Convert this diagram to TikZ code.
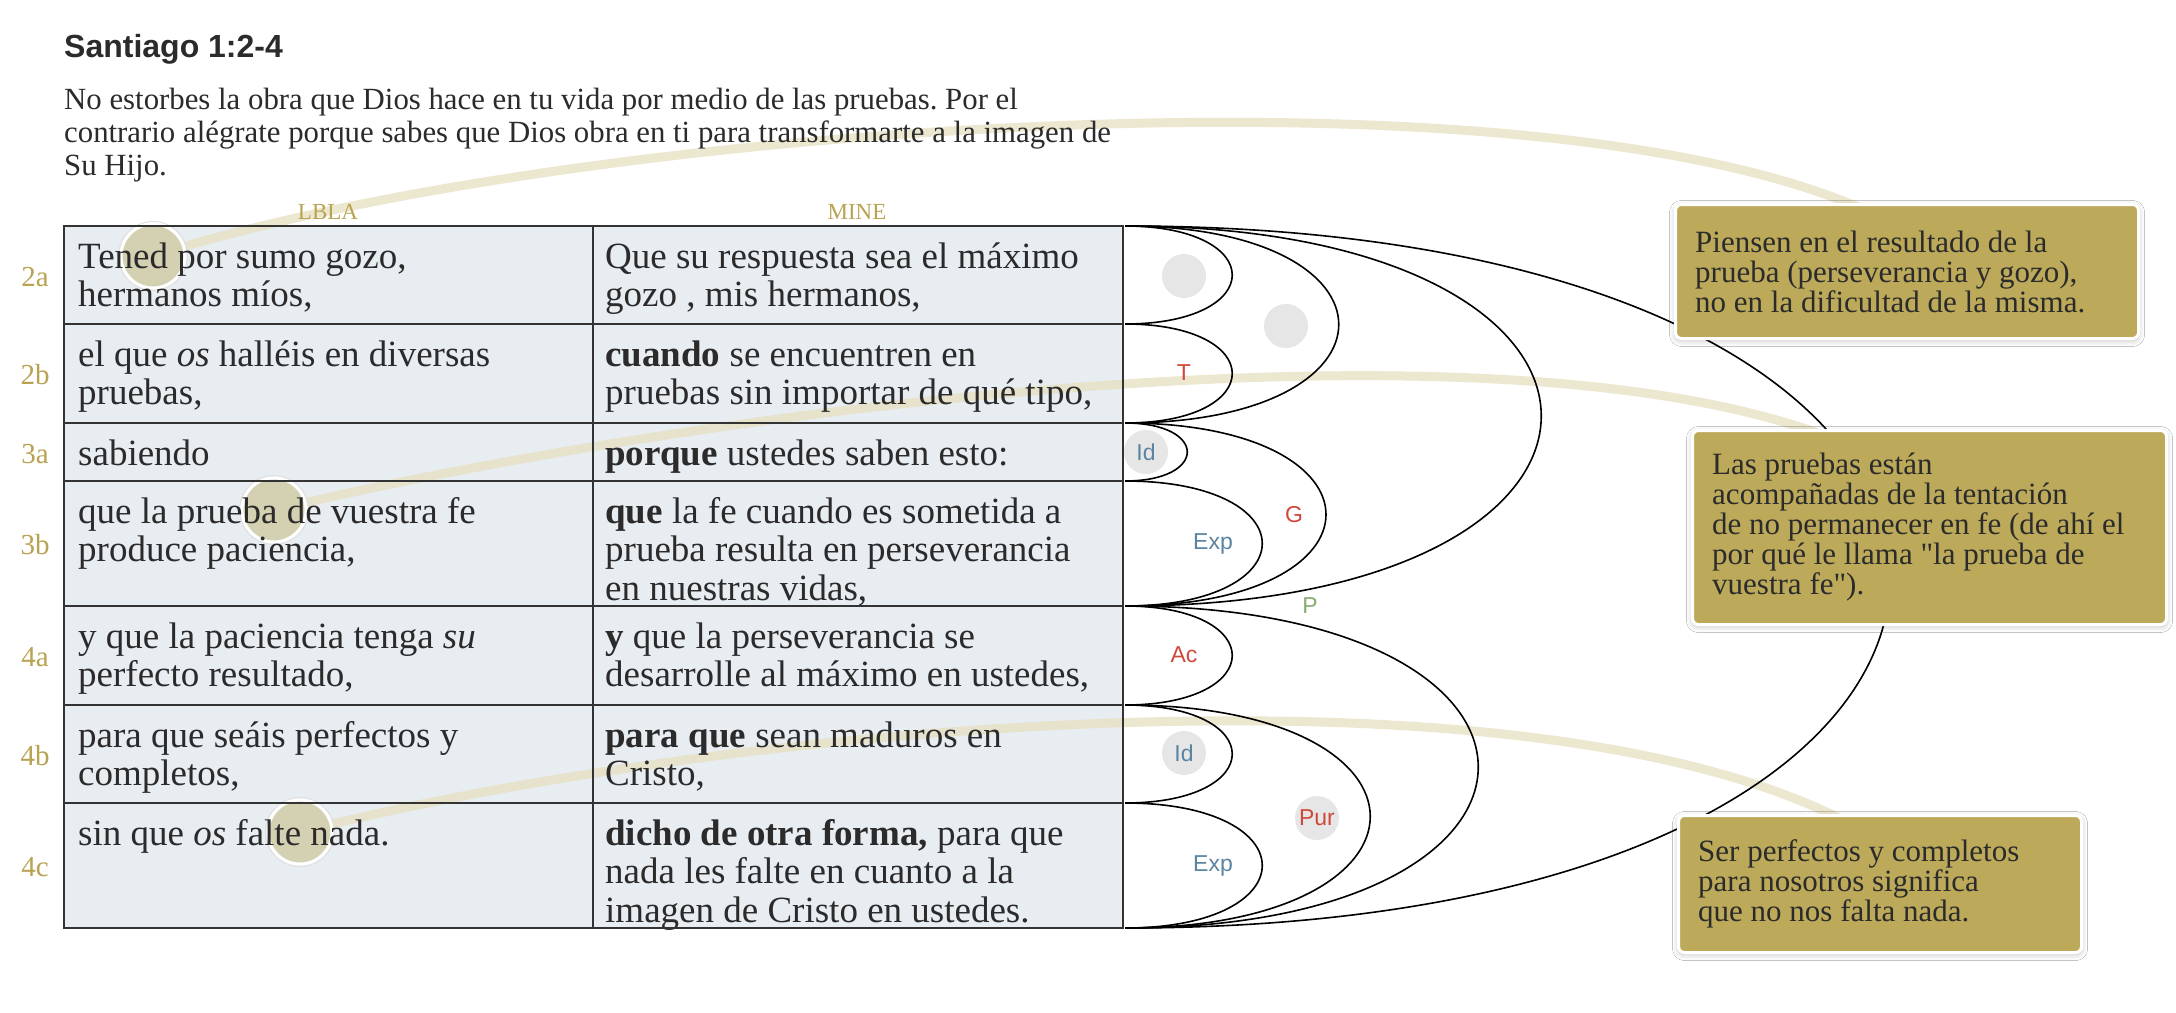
\documentclass[tikz,border=0pt]{standalone}
\usepackage{fontspec}
\setmainfont{Liberation Serif}[Ligatures=TeXOff]
\newfontfamily\sansf{Liberation Sans}
\usetikzlibrary{shadows.blur,calc}
\definecolor{ink}{HTML}{2B2B2B}
\definecolor{cellbg}{HTML}{E8EDF1}
\definecolor{gridc}{HTML}{333333}
\definecolor{gold}{HTML}{BCAA5A}
\definecolor{goldtxt}{HTML}{B9A353}
\definecolor{thread}{HTML}{E6DFBF}
\definecolor{hlfill}{HTML}{D3D1B2}
\definecolor{dotgray}{HTML}{E6E6E6}
\definecolor{lred}{HTML}{D0483B}
\definecolor{lblue}{HTML}{5B84A2}
\definecolor{lgreen}{HTML}{86AD6E}
\newcommand\firstln{\rule{0pt}{30pt}}
\newcommand\firstpar{\rule{0pt}{25pt}}
\frenchspacing
\begin{document}
\begin{tikzpicture}[x=1pt,y=-1pt,
 cellbox/.style={fill=cellbg, inner sep=0pt, outer sep=0pt, anchor=north west},
 ctext/.style={anchor=north west, inner sep=0pt, align=left, text=ink, font=\fontsize{37}{38.5}\selectfont},
 rowlab/.style={anchor=base, inner sep=0pt, text=goldtxt, font=\fontsize{29}{29}\selectfont},
 colhead/.style={anchor=base, inner sep=0pt, text=goldtxt, font=\fontsize{23}{23}\selectfont},
 grid/.style={draw=gridc, line width=2pt},
 arcline/.style={draw=black, line width=1.6pt},
 dot/.style={circle, fill=dotgray, minimum size=44pt, inner sep=0pt},
 albl/.style={font=\sansf\fontsize{23}{23}\selectfont, inner sep=0pt},
 hl/.style={circle, minimum size=64pt, inner sep=0pt, fill=hlfill, draw=white, line width=3pt},
 thr/.style={draw=thread, line width=9pt, draw opacity=0.75, line cap=round},
 note/.style={rectangle, rounded corners=6pt, fill=gold, draw=white, line width=3pt, anchor=north west, inner sep=0pt,
   blur shadow={shadow xshift=0pt, shadow yshift=-2pt, shadow blur radius=6pt, shadow opacity=25, shadow blur steps=6}},
 notetext/.style={anchor=west, inner sep=0pt, align=left, text=ink, font=\fontsize{31}{30}\selectfont}
]
\useasboundingbox (0,0) rectangle (2176,1012);
\fill[white] (0,0) rectangle (2176,1012);

% cell backgrounds
\node[cellbox, minimum width=529pt, minimum height=702pt] (colL) at (64,226) {};
\node[cellbox, minimum width=530pt, minimum height=702pt] (colR) at (593,226) {};

% threads (start at the highlight circles, end under the notes)
\coordinate (hc1) at (153,256);
\coordinate (hc2) at (274,510);
\coordinate (hc3) at (300,832);
\coordinate (te1) at (1858,207);
\coordinate (te2) at (1815,432);
\coordinate (te3) at (1839,818);
\draw[thr] (hc1) .. controls (550,130) and (1500,55) .. (te1);
\draw[thr] (hc2) .. controls (650,420) and (1450,305) .. (te2);
\draw[thr] (hc3) .. controls (700,730) and (1500,650) .. (te3);

% highlight circles
\draw[draw=black!12, line width=1pt] (hc1) circle (34.5);
\draw[draw=black!12, line width=1pt] (hc2) circle (34.5);
\draw[draw=black!12, line width=1pt] (hc3) circle (34.5);
\node[hl] (hl1) at (hc1) {};
\node[hl] (hl2) at (hc2) {};
\node[hl] (hl3) at (hc3) {};

% title and intro
\node[anchor=base west, inner sep=0pt, text=ink, font=\sansf\bfseries\fontsize{32}{32}\selectfont] (title) at (64,57) {Santiago 1:2-4};
\node[anchor=north west, inner sep=0pt, align=left, text=ink, font=\fontsize{30.8}{33}\selectfont] (intro) at (64,84)
 {\firstpar No estorbes la obra que Dios hace en tu vida por medio de las pruebas. Por el\\
  contrario alégrate porque sabes que Dios obra en ti para transformarte a la imagen de\\
  Su Hijo.};
\node[colhead] (hLBLA) at (328,219) {LBLA};
\node[colhead] (hMINE) at (857,219) {MINE};

% row labels
\node[rowlab] (l2a) at (35,286) {2a};
\node[rowlab] (l2b) at (35,384.5) {2b};
\node[rowlab] (l3a) at (35,463) {3a};
\node[rowlab] (l3b) at (35,554.5) {3b};
\node[rowlab] (l4a) at (35,666.5) {4a};
\node[rowlab] (l4b) at (35,765) {4b};
\node[rowlab] (l4c) at (35,876.5) {4c};

% left column text
\node[ctext] (tL2a) at (78,238) {\firstln Tened por sumo gozo,\\hermanos míos,};
\node[ctext] (tL2b) at (78,336) {\firstln el que \textit{os} halléis en diversas\\pruebas,};
\node[ctext] (tL3a) at (78,435) {\firstln sabiendo};
\node[ctext] (tL3b) at (78,493) {\firstln que la prueba de vuestra fe\\produce paciencia,};
\node[ctext] (tL4a) at (78,618) {\firstln y que la paciencia tenga \textit{su}\\perfecto resultado,};
\node[ctext] (tL4b) at (78,717) {\firstln para que seáis perfectos y\\completos,};
\node[ctext] (tL4c) at (78,815) {\firstln sin que \textit{os} falte nada.};

% right column text
\node[ctext] (tR2a) at (605,238) {\firstln Que su respuesta sea el máximo\\gozo , mis hermanos,};
\node[ctext] (tR2b) at (605,336) {\firstln \textbf{cuando} se encuentren en\\pruebas sin importar de qué tipo,};
\node[ctext] (tR3a) at (605,435) {\firstln \textbf{porque} ustedes saben esto:};
\node[ctext] (tR3b) at (605,493) {\firstln \textbf{que} la fe cuando es sometida a\\prueba resulta en perseverancia\\en nuestras vidas,};
\node[ctext] (tR4a) at (605,618) {\firstln \textbf{y} que la perseverancia se\\desarrolle al máximo en ustedes,};
\node[ctext] (tR4b) at (605,717) {\firstln \textbf{para que} sean maduros en\\Cristo,};
\node[ctext] (tR4c) at (605,815) {\firstln \textbf{dicho de otra forma,} para que\\nada les falte en cuanto a la\\imagen de Cristo en ustedes.};

% grid
\draw[grid] (colL.north west) rectangle (colR.south east);
\draw[grid] (colL.north east) -- (colL.south east);
\foreach \yy in {324,423,481,606,705,803} \draw[grid] (64,\yy) -- (1123,\yy);

% grey dots and labels
\node[dot] (d1) at (1184,276) {};
\node[dot] (d2) at (1286,326) {};
\node[dot, albl, text=lblue] (id1) at (1146,452) {Id};
\node[dot, albl, text=lblue] (id2) at (1184,753) {Id};
\node[dot, albl, text=lred] (pur) at (1317,818) {Pur};
\node[albl, text=lred] (lT) at (1184,373) {T};
\node[albl, text=lblue] (exp1) at (1213,544) {Exp};
\node[albl, text=lred] (lG) at (1294,515) {G};
\node[albl, text=lgreen] (lP) at (1310,606) {P};
\node[albl, text=lred] (lAc) at (1184,655) {Ac};
\node[albl, text=lblue] (exp2) at (1213,866) {Exp};

% arcs
\coordinate (b0) at (1125,226);
\coordinate (b1) at (1125,324);
\coordinate (b2) at (1125,423);
\coordinate (b3) at (1125,481);
\coordinate (b4) at (1125,606);
\coordinate (b5) at (1125,705);
\coordinate (b6) at (1125,803);
\coordinate (b7) at (1125,928);
\draw[arcline] (b0) .. controls +(143,0) and +(143,0) .. (b1);
\draw[arcline] (b1) .. controls +(143,0) and +(143,0) .. (b2);
\draw[arcline] (b0) .. controls +(285,0) and +(285,0) .. (b2);
\draw[arcline] (b2) .. controls +(83,0) and +(83,0) .. (b3);
\draw[arcline] (b3) .. controls +(183,0) and +(183,0) .. (b4);
\draw[arcline] (b2) .. controls +(268,0) and +(268,0) .. (b4);
\draw[arcline] (b0) .. controls +(555,0) and +(555,0) .. (b4);
\draw[arcline] (b4) .. controls +(143,0) and +(143,0) .. (b5);
\draw[arcline] (b5) .. controls +(143,0) and +(143,0) .. (b6);
\draw[arcline] (b6) .. controls +(183,0) and +(183,0) .. (b7);
\draw[arcline] (b5) .. controls +(327,0) and +(327,0) .. (b7);
\draw[arcline] (b4) .. controls +(471,0) and +(471,0) .. (b7);
\draw[arcline] (b0) .. controls +(1020,0) and +(1020,0) .. (b7);

% notes
\node[note, minimum width=463pt, minimum height=134pt] (note1) at (1674,203) {};
\node[notetext] (note1t) at ($(note1.west)+(21,0)$) {Piensen en el resultado de la\\prueba (perseverancia y gozo),\\no en la dificultad de la misma.};
\node[note, minimum width=474pt, minimum height=194pt] (note2) at (1691,429) {};
\node[notetext] (note2t) at ($(note2.west)+(21,0)$) {Las pruebas están\\acompañadas de la tentación\\de no permanecer en fe (de ahí el\\por qué le llama "la prueba de\\vuestra fe").};
\node[note, minimum width=403pt, minimum height=137pt] (note3) at (1677,814) {};
\node[notetext] (note3t) at ($(note3.west)+(21,0)$) {Ser perfectos y completos\\para nosotros significa\\que no nos falta nada.};
\end{tikzpicture}
\end{document}
